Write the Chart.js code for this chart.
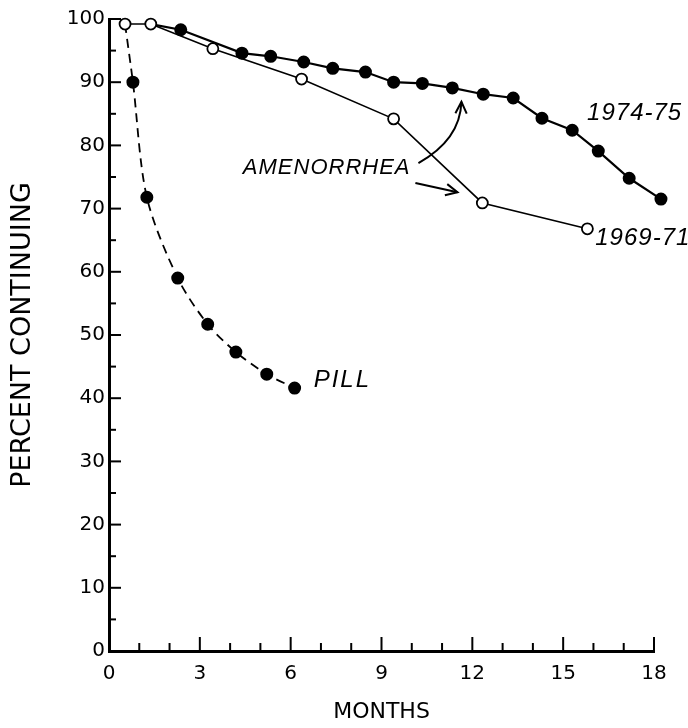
<!DOCTYPE html>
<html>
<head>
<meta charset="utf-8">
<script src="https://cdn.jsdelivr.net/npm/chart.js@4.4.0/dist/chart.umd.min.js"></script>
<style>
  html, body { margin: 0; padding: 0; background: #fff; }
  #wrap { width: 688px; height: 728px; }
</style>
</head>
<body>
<div id="wrap"><canvas id="c" width="688" height="728"></canvas></div>
<script>
// ---- data ----
const months1969 = [0.53, 1.38, 3.43, 6.36, 9.40, 12.33, 15.80];
const pct1969    = [99.2, 99.2, 95.3, 90.5, 84.2, 70.9, 66.8];

const months1974 = [1.38, 2.37, 4.39, 5.34, 6.43, 7.39, 8.47, 9.40, 10.35, 11.34, 12.36, 13.35, 14.30, 15.30, 16.16, 17.18, 18.23];
const pct1974    = [99.2, 98.3, 94.6, 94.1, 93.2, 92.2, 91.6, 90.0, 89.8, 89.1, 88.1, 87.5, 84.3, 82.4, 79.1, 74.8, 71.5];

const monthsPill = [0.53, 0.79, 1.25, 2.27, 3.26, 4.19, 5.21, 6.13];
const pctPill    = [99.2, 90.0, 71.8, 59.0, 51.7, 47.3, 43.8, 41.6];

const xTickValues = [0, 3, 6, 9, 12, 15, 18];
const yTickValues = [0, 10, 20, 30, 40, 50, 60, 70, 80, 90, 100];

const seriesLabels = ['1969-71', '1974-75', 'PILL'];
const noteText = 'AMENORRHEA';

const toXY = (xs, ys) => xs.map((x, i) => ({ x: x, y: ys[i] }));

// ---- plugin: inward ticks, annotations ----
const decor = {
  id: 'decor',
  afterDatasetsDraw(chart) {
    const ctx = chart.ctx;
    const xs = chart.scales.x, ys = chart.scales.y;
    const area = chart.chartArea;
    ctx.save();
    ctx.strokeStyle = '#000';
    ctx.lineCap = 'butt';
    for (let m = 0; m <= 18; m++) {
      const px = xs.getPixelForValue(m);
      const major = xTickValues.includes(m);
      ctx.lineWidth = 2;
      ctx.beginPath();
      ctx.moveTo(px, area.bottom);
      ctx.lineTo(px, area.bottom - (major ? 14 : 8));
      ctx.stroke();
    }
    for (let v = 0; v <= 100; v += 5) {
      const py = ys.getPixelForValue(v);
      const major = yTickValues.includes(v);
      ctx.lineWidth = 2;
      ctx.beginPath();
      ctx.moveTo(area.left, py);
      ctx.lineTo(area.left + (major ? 12 : 7), py);
      ctx.stroke();
    }

    const P = (x, y) => [xs.getPixelForValue(x), ys.getPixelForValue(y)];
    ctx.fillStyle = '#000';
    ctx.textBaseline = 'middle';
    ctx.textAlign = 'left';
    ctx.font = 'italic 24px "Liberation Sans", Arial, sans-serif';
    try { ctx.letterSpacing = '1px'; } catch (e) {}
    let p;
    p = P(15.79, 85.1); ctx.fillText(seriesLabels[1], p[0], p[1]);
    p = P(16.06, 65.3); ctx.fillText(seriesLabels[0], p[0], p[1]);
    ctx.font = 'italic 24px "Liberation Sans", Arial, sans-serif';
    try { ctx.letterSpacing = '2px'; } catch (e) {}
    p = P(6.76, 42.9);  ctx.fillText(seriesLabels[2], p[0], p[1]);
    ctx.font = 'italic 22px "Liberation Sans", Arial, sans-serif';
    try { ctx.letterSpacing = '1px'; } catch (e) {}
    p = P(4.42, 76.4);  ctx.fillText(noteText, p[0], p[1]);
    try { ctx.letterSpacing = '0px'; } catch (e) {}

    function arrowHead(tx, ty, fx, fy) {
      const ang = Math.atan2(ty - fy, tx - fx);
      const L = 13, a = 0.45;
      ctx.beginPath();
      ctx.moveTo(tx - L * Math.cos(ang - a), ty - L * Math.sin(ang - a));
      ctx.lineTo(tx, ty);
      ctx.lineTo(tx - L * Math.cos(ang + a), ty - L * Math.sin(ang + a));
      ctx.stroke();
    }
    ctx.lineWidth = 2;
    const s1 = P(10.22, 77.2), c1 = P(11.6, 80.9), e1 = P(11.64, 86.9);
    ctx.beginPath();
    ctx.moveTo(s1[0], s1[1]);
    ctx.quadraticCurveTo(c1[0], c1[1], e1[0], e1[1]);
    ctx.stroke();
    arrowHead(e1[0], e1[1], c1[0], c1[1]);
    const s2 = P(10.12, 74.05), e2 = P(11.51, 72.6);
    ctx.beginPath();
    ctx.moveTo(s2[0], s2[1]);
    ctx.lineTo(e2[0], e2[1]);
    ctx.stroke();
    arrowHead(e2[0], e2[1], s2[0], s2[1]);
    ctx.restore();
  }
};

new Chart(document.getElementById('c'), {
  type: 'scatter',
  data: {
    datasets: [
      {
        label: seriesLabels[0],
        data: toXY(months1969, pct1969),
        showLine: true,
        borderColor: '#000',
        borderWidth: 1.6,
        pointBackgroundColor: '#fff',
        pointBorderColor: '#000',
        pointBorderWidth: 1.8,
        pointRadius: 5.5,
        clip: false,
        order: 0
      },
      {
        label: seriesLabels[1],
        data: toXY(months1974, pct1974),
        showLine: true,
        borderColor: '#000',
        borderWidth: 2.2,
        pointBackgroundColor: '#000',
        pointBorderColor: '#000',
        pointBorderWidth: 2,
        pointRadius: c => c.dataIndex === 0 ? 0 : 5.5,
        clip: false,
        order: 1
      },
      {
        label: seriesLabels[2],
        data: toXY(monthsPill, pctPill),
        showLine: true,
        borderColor: '#000',
        borderWidth: 1.8,
        borderDash: [9, 6],
        tension: 0.3,
        pointBackgroundColor: '#000',
        pointBorderColor: '#000',
        pointBorderWidth: 2,
        pointRadius: c => c.dataIndex === 0 ? 0 : 5.5,
        clip: false,
        order: 2
      }
    ]
  },
  options: {
    responsive: false,
    animation: false,
    devicePixelRatio: 1,
    layout: { padding: { top: 19, right: 34, bottom: 0, left: 0 } },
    plugins: { legend: { display: false }, tooltip: { enabled: false } },
    scales: {
      x: {
        type: 'linear',
        min: 0, max: 18,
        afterFit: s => { s.height = 77; },
        afterBuildTicks: s => { s.ticks = xTickValues.map(v => ({ value: v })); },
        grid: { display: true, drawOnChartArea: false, drawTicks: false },
        border: { display: true, color: '#000', width: 3 },
        ticks: {
          color: '#000',
          padding: 11,
          font: { family: '"DejaVu Sans", sans-serif', size: 20 },
          maxRotation: 0
        },
        title: {
          display: true,
          text: 'MONTHS',
          color: '#000',
          font: { family: '"DejaVu Sans", sans-serif', size: 22 },
          padding: { top: 0, bottom: 3 }
        }
      },
      y: {
        type: 'linear',
        min: 0, max: 100,
        afterFit: s => { s.width = 109; },
        afterBuildTicks: s => { s.ticks = yTickValues.map(v => ({ value: v })); },
        grid: { display: true, drawOnChartArea: false, drawTicks: false },
        border: { display: true, color: '#000', width: 3 },
        ticks: {
          color: '#000',
          padding: 4,
          font: { family: '"DejaVu Sans", sans-serif', size: 20 }
        },
        title: {
          display: true,
          text: 'PERCENT CONTINUING',
          color: '#000',
          font: { family: '"DejaVu Sans", sans-serif', size: 27 },
          padding: { top: 7, bottom: 0 }
        }
      }
    }
  },
  plugins: [decor]
});
</script>
</body>
</html>
